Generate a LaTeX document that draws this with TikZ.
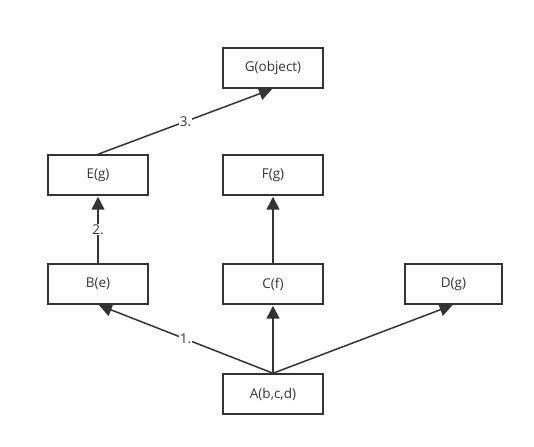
\documentclass[tikz,border=0pt]{standalone}
\usepackage{fontspec}
\setmainfont{Open Sans}
\usetikzlibrary{arrows.meta}
\definecolor{ink}{HTML}{333333}

\begin{document}
\begin{tikzpicture}[x=1pt,y=1pt,
  cls/.style={draw=ink,line width=1.5pt,minimum width=100pt,minimum height=40pt,
    text=ink,font=\fontsize{13.5}{16}\selectfont,inner sep=0pt},
  inh/.style={draw=ink,line width=1.5pt,shorten >=1pt,
    -{Triangle[length=13pt,width=13pt]}},
  num/.style={fill=white,text=ink,font=\fontsize{13.5}{16}\selectfont,inner sep=1pt}]
\useasboundingbox (0,0) rectangle (534,446);
\node[cls] (g) at (273,378) {G(object)};
\node[cls] (e) at (98,271) {E(g)};
\node[cls] (f) at (273,271) {F(g)};
\node[cls] (b) at (98,162) {B(e)};
\node[cls] (c) at (273,162) {C(f)};
\node[cls,minimum width=97pt] (d) at (453.5,162) {D(g)};
\node[cls] (a) at (273,52) {A(b,c,d)};
\draw[inh] (a.north) -- node[num] {1.} (b.south);
\draw[inh] (a.north) -- (c.south);
\draw[inh] (a.north) -- (d.south);
\draw[inh] (b.north) -- node[num] {2.} (e.south);
\draw[inh] (c.north) -- (f.south);
\draw[inh] (e.north) -- node[num] {3.} (g.south);
\end{tikzpicture}
\end{document}
